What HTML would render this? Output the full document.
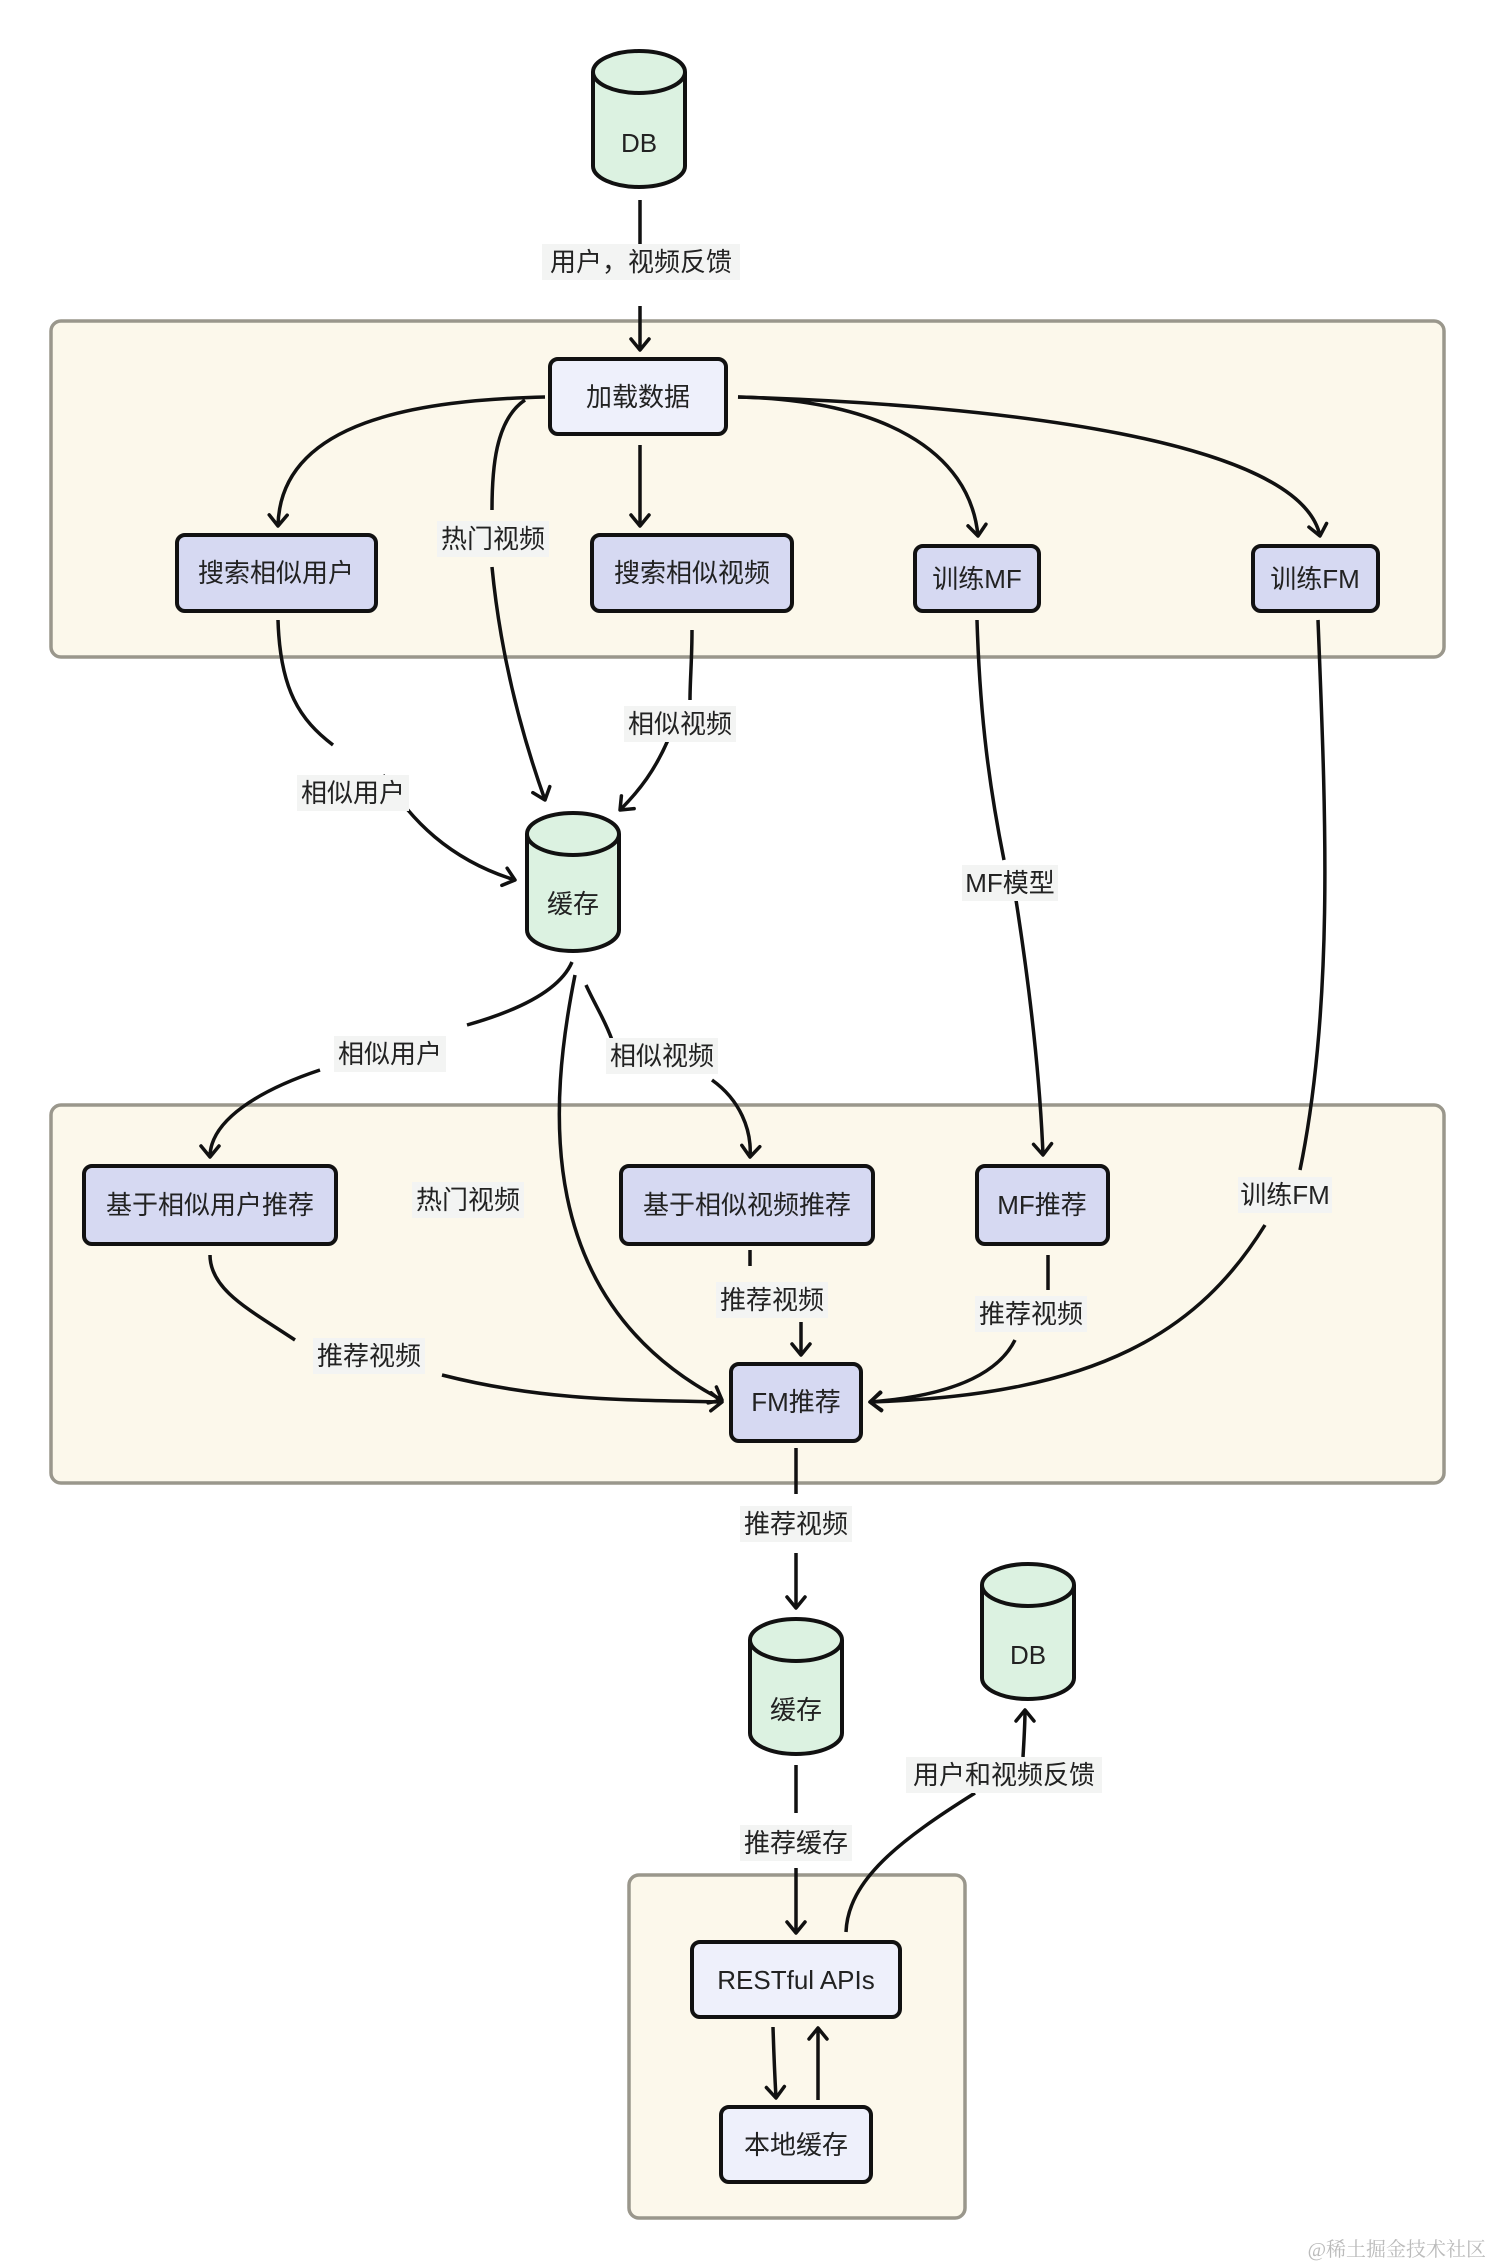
<!DOCTYPE html>
<html><head><meta charset="utf-8"><style>
html,body{margin:0;padding:0;background:#fff}
svg{display:block}
text{font-family:"Liberation Sans","Noto Sans CJK SC",sans-serif;fill:#222}
.n{font-size:26px;text-anchor:middle;dominant-baseline:central}
.l{font-size:26px;text-anchor:middle;dominant-baseline:central}
.e{fill:none;stroke:#111;stroke-width:3.5}
.box{fill:#d6d9f2;stroke:#111;stroke-width:4}
.box2{fill:#eef0fb;stroke:#111;stroke-width:4}
.cl{fill:#fcf8eb;stroke:#9a978c;stroke-width:3.5}
.cyl{fill:#dcf2e1;stroke:#111;stroke-width:4}
.lb{fill:#f3f4f3}
</style></head><body>
<svg width="1492" height="2268" viewBox="0 0 1492 2268" xmlns="http://www.w3.org/2000/svg">
<defs><marker id="a" viewBox="0 0 22 22" refX="19" refY="11" markerWidth="22" markerHeight="22" markerUnits="userSpaceOnUse" orient="auto"><path d="M8,2 L19,11 L8,20" fill="none" stroke="#111" stroke-width="3.5" stroke-linecap="round" stroke-linejoin="round"/></marker></defs>

<rect class="cl" x="51" y="321" width="1393" height="336" rx="10"/>
<rect class="cl" x="51" y="1105" width="1393" height="378" rx="10"/>
<rect class="cl" x="629" y="1875" width="336" height="343" rx="10"/>

<!-- edges -->
<path class="e" d="M640 200 V246"/>
<path class="e" d="M640 306 V350" marker-end="url(#a)"/>
<path class="e" d="M545 397 C420 400 280 420 278 526" marker-end="url(#a)"/>
<path class="e" d="M525 400 C495 420 492 470 492 510"/>
<path class="e" d="M492 567 C500 650 520 730 545 800" marker-end="url(#a)"/>
<path class="e" d="M640 445 V526" marker-end="url(#a)"/>
<path class="e" d="M738 397 C880 400 970 450 978 536" marker-end="url(#a)"/>
<path class="e" d="M738 397 C1000 405 1300 440 1320 536" marker-end="url(#a)"/>
<path class="e" d="M278 620 C280 690 300 720 333 745"/>
<path class="e" d="M383 775 C410 820 450 860 515 880" marker-end="url(#a)"/>
<path class="e" d="M692 630 C692 660 690 680 690 700"/>
<path class="e" d="M668 740 C655 770 640 790 620 810" marker-end="url(#a)"/>
<path class="e" d="M977 620 C980 720 990 790 1004 860"/>
<path class="e" d="M1016 900 C1030 990 1040 1080 1043 1155" marker-end="url(#a)"/>
<path class="e" d="M1318 620 C1325 800 1335 1000 1300 1170"/>
<path class="e" d="M1265 1225 C1200 1330 1100 1395 870 1402" marker-end="url(#a)"/>
<path class="e" d="M572 962 C560 990 520 1010 467 1025"/>
<path class="e" d="M320 1070 C260 1090 210 1120 210 1157" marker-end="url(#a)"/>
<path class="e" d="M586 985 C595 1005 605 1020 612 1040"/>
<path class="e" d="M712 1080 C740 1100 752 1130 750 1157" marker-end="url(#a)"/>
<path class="e" d="M575 975 C550 1100 530 1300 722 1400" marker-end="url(#a)"/>
<path class="e" d="M210 1255 C210 1290 250 1310 295 1340"/>
<path class="e" d="M442 1375 C540 1400 620 1400 722 1402" marker-end="url(#a)"/>
<path class="e" d="M750 1250 V1266"/>
<path class="e" d="M801 1322 V1355" marker-end="url(#a)"/>
<path class="e" d="M1048 1255 V1290"/>
<path class="e" d="M1015 1340 C1000 1370 960 1395 870 1402" marker-end="url(#a)"/>
<path class="e" d="M796 1448 V1494"/>
<path class="e" d="M796 1553 V1608" marker-end="url(#a)"/>
<path class="e" d="M796 1765 V1813"/>
<path class="e" d="M796 1868 V1933" marker-end="url(#a)"/>
<path class="e" d="M846 1932 C848 1880 900 1840 975 1793"/>
<path class="e" d="M1023 1757 C1024 1740 1025 1725 1025 1710" marker-end="url(#a)"/>
<path class="e" d="M773 2027 C774 2060 775 2080 776 2098" marker-end="url(#a)"/>
<path class="e" d="M818 2100 V2028" marker-end="url(#a)"/>

<!-- cylinders -->
<g>
<path class="cyl" d="M593 72 V166 A46 21 0 0 0 685 166 V72"/><ellipse class="cyl" cx="639" cy="72" rx="46" ry="21"/>
<text class="n" x="639" y="143">DB</text>
</g>
<g>
<path class="cyl" d="M527 834 V930 A46 21 0 0 0 619 930 V834"/><ellipse class="cyl" cx="573" cy="834" rx="46" ry="21"/>
<text class="n" x="573" y="904">缓存</text>
</g>
<g>
<path class="cyl" d="M750 1640 V1733 A46 21 0 0 0 842 1733 V1640"/><ellipse class="cyl" cx="796" cy="1640" rx="46" ry="21"/>
<text class="n" x="796" y="1710">缓存</text>
</g>
<g>
<path class="cyl" d="M982 1585 V1678 A46 21 0 0 0 1074 1678 V1585"/><ellipse class="cyl" cx="1028" cy="1585" rx="46" ry="21"/>
<text class="n" x="1028" y="1655">DB</text>
</g>

<!-- boxes -->
<rect class="box2" x="550" y="359" width="176" height="75" rx="8"/><text class="n" x="638" y="397">加载数据</text>
<rect class="box" x="177" y="535" width="199" height="76" rx="8"/><text class="n" x="276" y="573">搜索相似用户</text>
<rect class="box" x="592" y="535" width="200" height="76" rx="8"/><text class="n" x="692" y="573">搜索相似视频</text>
<rect class="box" x="915" y="546" width="124" height="65" rx="8"/><text class="n" x="977" y="579">训练MF</text>
<rect class="box" x="1253" y="546" width="125" height="65" rx="8"/><text class="n" x="1315" y="579">训练FM</text>
<rect class="box" x="84" y="1166" width="252" height="78" rx="8"/><text class="n" x="210" y="1205">基于相似用户推荐</text>
<rect class="box" x="621" y="1166" width="252" height="78" rx="8"/><text class="n" x="747" y="1205">基于相似视频推荐</text>
<rect class="box" x="977" y="1166" width="131" height="78" rx="8"/><text class="n" x="1042" y="1205">MF推荐</text>
<rect class="box" x="731" y="1364" width="130" height="77" rx="8"/><text class="n" x="796" y="1402">FM推荐</text>
<rect class="box2" x="692" y="1942" width="208" height="75" rx="8"/><text class="n" x="796" y="1980">RESTful APIs</text>
<rect class="box2" x="721" y="2107" width="150" height="75" rx="8"/><text class="n" x="796" y="2145">本地缓存</text>

<!-- labels -->
<g>
<rect class="lb" x="542" y="244" width="198" height="36"/><text class="l" x="641" y="262">用户，视频反馈</text>
<rect class="lb" x="437" y="521" width="112" height="36"/><text class="l" x="493" y="539">热门视频</text>
<rect class="lb" x="624" y="706" width="112" height="36"/><text class="l" x="680" y="724">相似视频</text>
<rect class="lb" x="297" y="775" width="112" height="36"/><text class="l" x="353" y="793">相似用户</text>
<rect class="lb" x="962" y="865" width="96" height="36"/><text class="l" x="1010" y="883">MF模型</text>
<rect class="lb" x="334" y="1036" width="112" height="36"/><text class="l" x="390" y="1054">相似用户</text>
<rect class="lb" x="606" y="1038" width="112" height="36"/><text class="l" x="662" y="1056">相似视频</text>
<rect class="lb" x="412" y="1182" width="112" height="36"/><text class="l" x="468" y="1200">热门视频</text>
<rect class="lb" x="1238" y="1177" width="94" height="36"/><text class="l" x="1285" y="1195">训练FM</text>
<rect class="lb" x="716" y="1282" width="112" height="36"/><text class="l" x="772" y="1300">推荐视频</text>
<rect class="lb" x="975" y="1296" width="112" height="36"/><text class="l" x="1031" y="1314">推荐视频</text>
<rect class="lb" x="313" y="1338" width="112" height="36"/><text class="l" x="369" y="1356">推荐视频</text>
<rect class="lb" x="740" y="1506" width="112" height="36"/><text class="l" x="796" y="1524">推荐视频</text>
<rect class="lb" x="906" y="1757" width="196" height="36"/><text class="l" x="1004" y="1775">用户和视频反馈</text>
<rect class="lb" x="740" y="1825" width="112" height="36"/><text class="l" x="796" y="1843">推荐缓存</text>
</g>
<text x="1486" y="2256" style="font-size:20px;fill:#bbb;text-anchor:end;font-family:'Liberation Serif','Noto Serif CJK SC',serif">@稀土掘金技术社区</text>
</svg>
</body></html>
